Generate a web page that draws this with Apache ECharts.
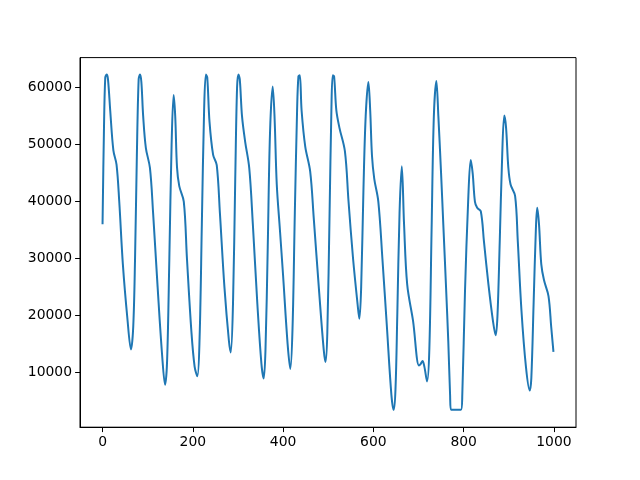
<!DOCTYPE html>
<html>
<head>
<meta charset="utf-8">
<script src="https://cdn.jsdelivr.net/npm/echarts@6/dist/echarts.min.js"></script>
<style>html,body{margin:0;padding:0;background:#fff}#c{width:640px;height:480px}</style>
</head>
<body>
<div id="c"></div>
<script>
const xs = [0,3,6,9,12,17,24,31,37,45,55,63,68,72,76,80,83,86,90,96,105,112,122,132,138.5,143,148,153,157.5,161,165,170,180,187,197,204,210,215,220,225,229,232,237,245,253,260,270,280,284,289,294,298,301,304,309,316,325,333,343,352,357,361,366,371,377,381,386,393,400,410,416,421,426,431,434,437,441,449,460,468,480,490,494,498,503,507,510,513,518,525,537,545,555,565,569,573,578,583,589,593,597,602,611,620,630,640,645,649,653,658,663,668,675,688,701,705,709,713,719,724,729,734,739.6,744,750,755,761,766,770,772,794,797,803,810,815.7,820,825,830,838,845,855,865,871,875,880,885,890,894,899,904,914,920,928,938,946.5,950,955,960,963,967,972,978,988,994,999];
const ys = [36000,52000,61800,62300,61500,56000,49000,46500,40000,29000,19500,14000,18000,30000,48000,61500,62300,61000,55000,49400,45900,38000,25000,13000,7800,12000,30000,50000,58700,55000,46000,42700,40000,30000,17000,11000,9300,16000,36000,56000,62300,61800,54000,48200,46400,38000,25000,15500,13500,22000,44000,60000,62300,61500,55000,50500,45900,36000,22000,11500,8900,14000,32000,52000,60200,55000,43000,35000,27000,15000,10600,18000,38000,56000,62000,62200,56000,49700,45300,37000,24000,14000,11800,17000,38000,56000,62200,62000,56000,52900,48800,40000,30000,22000,19400,25000,42000,55000,61000,56000,48000,44000,40000,30000,18000,6000,3400,7000,20000,38000,46200,36000,25400,19000,11200,11500,12000,11000,8400,14000,35000,55000,61200,55000,45000,35900,25000,15400,6000,3400,3400,6000,24200,40000,47300,45000,40000,38900,38300,33000,25400,19000,16500,20000,33000,47000,55100,53000,46000,43000,41000,33000,21000,11000,6800,9000,22000,35000,38900,36000,29000,26200,23400,18000,13600];
const xTicks = [0,200,400,600,800,1000];
const yTicks = [10000,20000,30000,40000,50000,60000];

const data = xs.map((x,i)=>[x, ys[i]]);
const chart = echarts.init(document.getElementById('c'), null, {renderer:'canvas'});
const font = {fontFamily:'DejaVu Sans', fontSize:13.9, color:'#000', formatter:v=>String(v)};
chart.setOption({
  animation:false,
  backgroundColor:'#fff',
  grid:{left:80, right:64, top:57.6, bottom:52.8, show:true, borderColor:'#000', borderWidth:1, backgroundColor:'#fff'},
  xAxis:{type:'value', min:-49.95, max:1048.95,
    axisLine:{show:true,onZero:false,lineStyle:{color:'#000',width:1}},
    axisTick:{show:true,length:4.9,customValues:xTicks,lineStyle:{color:'#000'}},
    axisLabel:Object.assign({margin:8,customValues:xTicks},font),
    splitLine:{show:false}},
  yAxis:{type:'value', min:355, max:65290,
    axisLine:{show:true,onZero:false,lineStyle:{color:'#000',width:1}},
    axisTick:{show:true,length:4.9,customValues:yTicks,lineStyle:{color:'#000'}},
    axisLabel:Object.assign({margin:8,customValues:yTicks},font),
    splitLine:{show:false}},
  series:[{type:'line', data:data, showSymbol:false, smooth:0.35,
    lineStyle:{color:'#1f77b4', width:2}}]
});
</script>
</body>
</html>
